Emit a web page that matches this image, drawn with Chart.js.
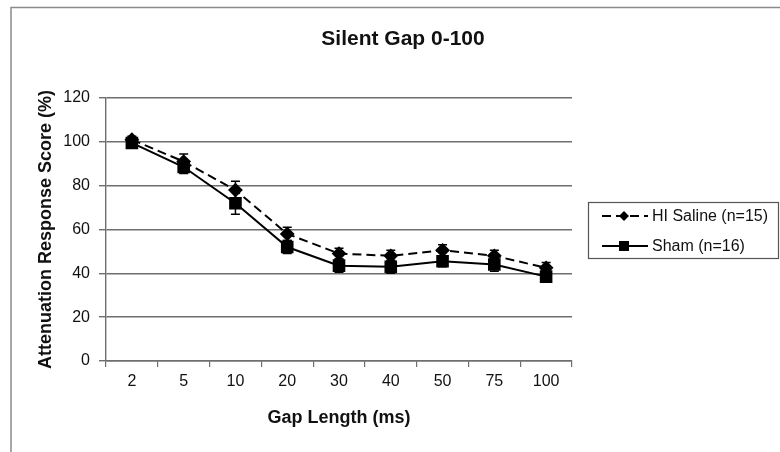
<!DOCTYPE html>
<html>
<head>
<meta charset="utf-8">
<script src="https://cdn.jsdelivr.net/npm/chart.js@4/dist/chart.umd.min.js"></script>
<style>
  html, body { margin: 0; padding: 0; background: #fff; }
  #wrap { width: 780px; height: 452px; position: relative; }
</style>
</head>
<body>
<div id="wrap"><canvas id="c" width="780" height="452"></canvas></div>
<script>
const chartTitle = 'Silent Gap 0-100';
const xAxisTitle = 'Gap Length (ms)';
const yAxisTitle = 'Attenuation Response Score (%)';
const categories = ['2', '5', '10', '20', '30', '40', '50', '75', '100'];
const yTicks = [0, 20, 40, 60, 80, 100, 120];
const hiSalineLabel = 'HI Saline (n=15)';
const hiSaline = [101, 91, 78, 58, 49, 48, 50.5, 48, 42.5];
const hiSalineErr = [1.5, 3.5, 4, 3, 2.5, 2.5, 2.5, 2.5, 2.5];
const shamLabel = 'Sham (n=16)';
const sham = [99.5, 88.5, 72, 52, 43.5, 43, 45.5, 44, 38.5];
const shamErr = [1.5, 3, 5, 3, 3, 3, 2.5, 3, 2];

const FONT = "'Liberation Sans', Arial, sans-serif";
const GRID = '#6e6e6e';

const errorBars = {
  id: 'errorBars',
  beforeDatasetsDraw(chart) {
    const ctx = chart.ctx, ys = chart.scales.y;
    chart.data.datasets.forEach((ds, di) => {
      const meta = chart.getDatasetMeta(di);
      ctx.save();
      ctx.strokeStyle = '#000';
      ctx.lineWidth = 1.5;
      meta.data.forEach((pt, i) => {
        const v = ds.data[i], e = ds.errors[i];
        const y1 = ys.getPixelForValue(v + e), y2 = ys.getPixelForValue(v - e);
        ctx.beginPath();
        ctx.moveTo(pt.x, y1); ctx.lineTo(pt.x, y2);
        ctx.moveTo(pt.x - 4.5, y1); ctx.lineTo(pt.x + 4.5, y1);
        ctx.moveTo(pt.x - 4.5, y2); ctx.lineTo(pt.x + 4.5, y2);
        ctx.stroke();
      });
      ctx.restore();
    });
  }
};

const decor = {
  id: 'decor',
  beforeDraw(chart) {
    const ctx = chart.ctx;
    ctx.save();
    ctx.fillStyle = '#fff';
    ctx.fillRect(0, 0, chart.width, chart.height);
    ctx.strokeStyle = '#8a8a8a';
    ctx.lineWidth = 1.5;
    ctx.beginPath();
    ctx.moveTo(11, 452); ctx.lineTo(11, 7.5); ctx.lineTo(780, 7.5);
    ctx.stroke();
    ctx.restore();
  },
  afterDraw(chart) {
    const ctx = chart.ctx;
    ctx.save();
    // title
    ctx.fillStyle = '#111';
    ctx.font = 'bold 21px ' + FONT;
    ctx.textAlign = 'center';
    ctx.textBaseline = 'middle';
    ctx.fillText(chartTitle, 403, 39);
    // legend
    ctx.strokeStyle = '#555';
    ctx.lineWidth = 1.2;
    ctx.strokeRect(588.5, 202.5, 190, 56);
    const rows = chart.data.datasets.map((ds, i) => ({ ds, y: i === 0 ? 216 : 246 }));
    rows.forEach(({ ds, y }) => {
      ctx.strokeStyle = '#000';
      ctx.lineWidth = 2;
      ctx.setLineDash(ds.borderDash || []);
      ctx.beginPath();
      ctx.moveTo(602, y); ctx.lineTo(648, y);
      ctx.stroke();
      ctx.setLineDash([]);
      ctx.fillStyle = '#000';
      ctx.beginPath();
      if (ds.pointStyle === 'rectRot') {
        const r = 5;
        ctx.moveTo(624, y - r); ctx.lineTo(624 + r, y); ctx.lineTo(624, y + r); ctx.lineTo(624 - r, y);
        ctx.closePath();
      } else {
        ctx.rect(619, y - 5, 10, 10);
      }
      ctx.fill();
      ctx.fillStyle = '#111';
      ctx.font = '16px ' + FONT;
      ctx.textAlign = 'left';
      ctx.textBaseline = 'middle';
      ctx.fillText(ds.label, 652, y + 1);
    });
    ctx.restore();
  }
};

new Chart(document.getElementById('c'), {
  type: 'line',
  data: {
    labels: categories,
    datasets: [
      {
        label: hiSalineLabel,
        data: hiSaline,
        errors: hiSalineErr,
        borderColor: '#000',
        backgroundColor: '#000',
        borderWidth: 2,
        borderDash: [9, 5],
        pointStyle: 'rectRot',
        pointRadius: 6,
        pointHoverRadius: 6,
        tension: 0
      },
      {
        label: shamLabel,
        data: sham,
        errors: shamErr,
        borderColor: '#000',
        backgroundColor: '#000',
        borderWidth: 2,
        pointStyle: 'rect',
        pointRadius: 7.5,
        pointHoverRadius: 7.5,
        tension: 0
      }
    ]
  },
  options: {
    responsive: false,
    animation: false,
    layout: { padding: { left: 14, right: 208, top: 98, bottom: 19 } },
    plugins: { legend: { display: false }, title: { display: false }, tooltip: { enabled: false } },
    scales: {
      x: {
        type: 'category',
        offset: true,
        afterFit(s) { s.height = 72; },
        grid: { offset: true, drawOnChartArea: false, drawTicks: true, tickLength: 6, color: GRID, lineWidth: 1.2 },
        border: { color: GRID, width: 1.4 },
        ticks: { color: '#111', font: { family: FONT, size: 16 }, padding: 5, maxRotation: 0 },
        title: { display: true, text: xAxisTitle, color: '#111', font: { family: FONT, size: 18, weight: 'bold' }, padding: { top: 4, bottom: 4 } }
      },
      y: {
        min: 0, max: 120,
        afterFit(s) { s.width = 92; },
        afterBuildTicks(s) { s.ticks = yTicks.map(v => ({ value: v })); },
        grid: { color: GRID, lineWidth: 1.4, tickLength: 7 },
        border: { color: GRID, width: 1.4 },
        ticks: { color: '#111', font: { family: FONT, size: 16 }, padding: 9 },
        title: { display: true, text: yAxisTitle, color: '#111', font: { family: FONT, size: 18, weight: 'bold' }, padding: { top: 21, bottom: 4 } }
      }
    }
  },
  plugins: [decor, errorBars]
});
</script>
</body>
</html>
